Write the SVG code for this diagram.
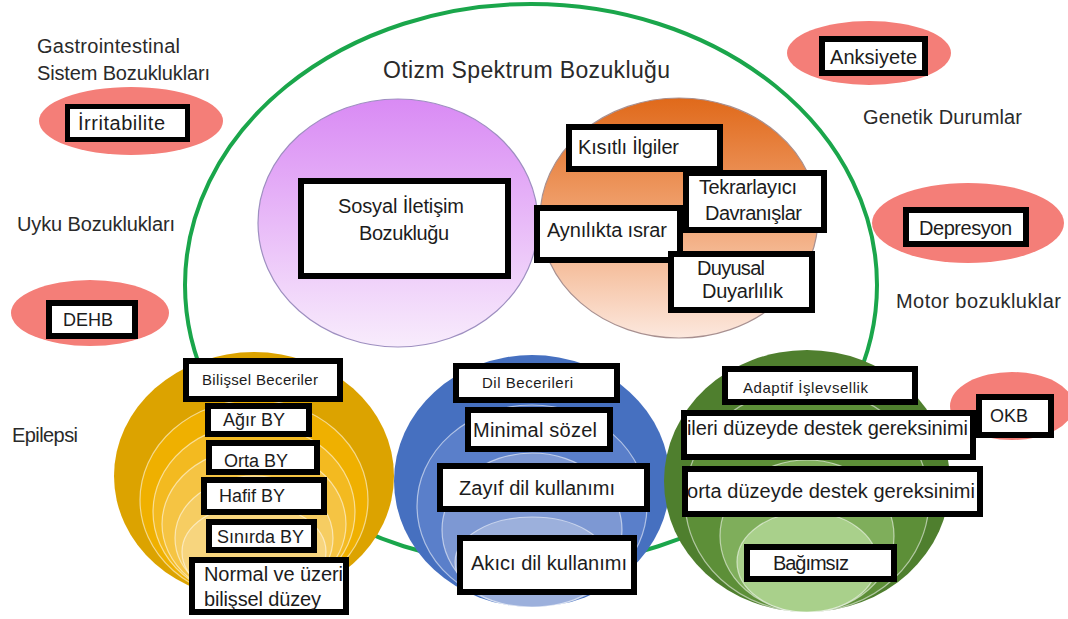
<svg xmlns="http://www.w3.org/2000/svg" width="1068" height="619" viewBox="0 0 1068 619">
<defs>
<linearGradient id="gPurple" x1="0" y1="0" x2="0" y2="1">
<stop offset="0" stop-color="#d98af4"/>
<stop offset="1" stop-color="#f8ecfc"/>
</linearGradient>
<linearGradient id="gOrange" x1="0" y1="0" x2="0" y2="1">
<stop offset="0" stop-color="#e0691a"/>
<stop offset="0.5" stop-color="#f1a473"/>
<stop offset="1" stop-color="#fce8de"/>
</linearGradient>
<style>
.t{font-family:"Liberation Sans",Arial,sans-serif;font-size:20px;fill:#1c1c1c}
.u{font-family:"Liberation Sans",Arial,sans-serif;font-size:18px;fill:#1c1c1c}
.o{font-family:"Liberation Sans",Arial,sans-serif;font-size:20px;fill:#2a2a2a}
.s{font-family:"Liberation Sans",Arial,sans-serif;font-size:15px;fill:#1c1c1c}
.b{fill:#ffffff;stroke:#000000;stroke-width:6}
.e{fill:#f47e78}
.ring{stroke:#ffffff;stroke-opacity:0.55;stroke-width:1.2}
</style>
</defs>
<rect width="1068" height="619" fill="#ffffff"/>

<g id="connectors">
<ellipse cx="531" cy="285" rx="346" ry="281" fill="none" stroke="#1aa64b" stroke-width="4"/>
</g>

<g id="title">
<text class="o" x="383" y="78" style="font-size:23px" textLength="287">Otizm Spektrum Bozukluğu</text>
</g>

<g id="gastro">
<text class="o" x="37" y="53" textLength="143">Gastrointestinal</text>
<text class="o" x="37" y="80" textLength="173">Sistem Bozuklukları</text>
</g>
<g id="irritabilite">
<ellipse class="e" cx="131" cy="121" rx="92" ry="34"/>
<rect class="b" x="67.5" y="106.5" width="120" height="33" style="stroke-width:5"/>
<text class="t" x="78" y="130" textLength="87">İrritabilite</text>
</g>
<g id="uyku">
<text class="o" x="17" y="231" textLength="158">Uyku Bozuklukları</text>
</g>
<g id="dehb">
<ellipse class="e" cx="90" cy="313" rx="79" ry="33"/>
<rect class="b" x="49" y="303" width="86" height="33"/>
<text class="u" x="63" y="326">DEHB</text>
</g>
<g id="epilepsi">
<text class="o" x="12" y="442" textLength="66">Epilepsi</text>
</g>
<g id="anksiyete">
<ellipse class="e" cx="869" cy="53" rx="82" ry="32"/>
<rect class="b" x="822" y="39" width="103" height="34"/>
<text class="t" x="830" y="64" textLength="87">Anksiyete</text>
</g>
<g id="genetik">
<text class="o" x="863" y="124" textLength="159">Genetik Durumlar</text>
</g>
<g id="depresyon">
<ellipse class="e" cx="968" cy="223" rx="96" ry="40"/>
<rect class="b" x="906" y="210" width="120" height="34"/>
<text class="t" x="919" y="235" textLength="93">Depresyon</text>
</g>
<g id="motor">
<text class="o" x="896" y="308" textLength="165">Motor bozukluklar</text>
</g>
<g id="okb">
<ellipse class="e" cx="1012" cy="406" rx="62" ry="34"/>
<rect class="b" x="979" y="397" width="72" height="38"/>
<text class="u" x="990" y="422">OKB</text>
</g>

<g id="sosyal">
<ellipse cx="398" cy="223" rx="140" ry="124" fill="url(#gPurple)" stroke="#9e8fc0" stroke-width="1.2"/>
<rect class="b" x="301" y="181" width="207" height="95"/>
<text class="t" x="401" y="213" text-anchor="middle" textLength="126">Sosyal İletişim</text>
<text class="t" x="404" y="240" text-anchor="middle" textLength="90">Bozukluğu</text>
</g>

<g id="tekrarlayici-circle">
<ellipse cx="679" cy="218" rx="139" ry="120" fill="url(#gOrange)" stroke="#a89090" stroke-width="1.2"/>
</g>
<g id="kisitli">
<rect class="b" x="569" y="127" width="151" height="42"/>
<text class="t" x="578" y="154" textLength="101">Kısıtlı İlgiler</text>
</g>
<g id="aynilikta">
<rect class="b" x="537" y="208" width="143" height="52"/>
<text class="t" x="547" y="237" textLength="120">Aynılıkta ısrar</text>
</g>
<g id="tekrarlayici">
<rect class="b" x="686" y="173" width="138" height="57"/>
<text class="t" x="699" y="194" textLength="98">Tekrarlayıcı</text>
<text class="t" x="705" y="220" textLength="97">Davranışlar</text>
</g>
<g id="duyusal">
<rect class="b" x="671" y="254" width="141" height="56"/>
<text class="t" x="697" y="275" textLength="68">Duyusal</text>
<text class="t" x="702" y="298" textLength="81">Duyarlılık</text>
</g>

<g id="bilissel">
<ellipse cx="254" cy="476" rx="140" ry="124" fill="#dca300"/>
<ellipse class="ring" cx="254" cy="500" rx="114" ry="100" fill="#efb000"/>
<ellipse class="ring" cx="254" cy="512" rx="101" ry="88" fill="#f3ba20"/>
<ellipse class="ring" cx="254" cy="524" rx="92" ry="76" fill="#f5c443"/>
<ellipse class="ring" cx="254" cy="538" rx="79" ry="62" fill="#f6cd62"/>
<ellipse class="ring" cx="254" cy="552" rx="72" ry="48" fill="#f7d57e"/>
<rect class="b" x="186" y="361" width="154" height="38"/>
<text class="s" x="202" y="385" textLength="116">Bilişsel Beceriler</text>
<rect class="b" x="208" y="406" width="101" height="28"/>
<text class="u" x="223" y="426">Ağır BY</text>
<rect class="b" x="209" y="443" width="108" height="29"/>
<text class="u" x="224" y="467">Orta BY</text>
<rect class="b" x="204" y="480" width="120" height="32"/>
<text class="u" x="219" y="502">Hafif BY</text>
<rect class="b" x="209" y="522" width="105" height="28"/>
<text class="u" x="217" y="543">Sınırda BY</text>
<rect class="b" x="192" y="560" width="154" height="52"/>
<text class="t" x="204" y="581" textLength="139">Normal ve üzeri</text>
<text class="t" x="204" y="606" textLength="117">bilişsel düzey</text>
</g>

<g id="dil">
<ellipse cx="532" cy="481" rx="138" ry="126" fill="#4670c0"/>
<ellipse class="ring" cx="532" cy="506" rx="115" ry="101" fill="#5a7fca"/>
<ellipse class="ring" cx="532" cy="530" rx="90" ry="77" fill="#7d98d3"/>
<ellipse class="ring" cx="532" cy="562" rx="77" ry="45" fill="#9cb0dc"/>
<rect class="b" x="456" y="366" width="161" height="34"/>
<text class="s" x="482" y="388" textLength="91">Dil Becerileri</text>
<rect class="b" x="468" y="410" width="142" height="39"/>
<text class="t" x="473" y="437" textLength="124">Minimal sözel</text>
<rect class="b" x="440" y="466" width="207" height="43"/>
<text class="t" x="459" y="495" textLength="156">Zayıf dil kullanımı</text>
<rect class="b" x="460" y="538" width="174" height="54"/>
<text class="t" x="471" y="570" textLength="156">Akıcı dil kullanımı</text>
</g>

<g id="adaptif">
<ellipse cx="807" cy="481" rx="143" ry="131" fill="#4f7f2e"/>
<ellipse class="ring" cx="807" cy="500" rx="122" ry="112" fill="#5d8f38" stroke-opacity="0.25"/>
<ellipse class="ring" cx="807" cy="536" rx="87" ry="76" fill="#7fae5b"/>
<ellipse class="ring" cx="807" cy="562" rx="70" ry="50" fill="#a9d08b"/>
<rect class="b" x="725" y="369" width="190" height="33"/>
<text class="s" x="743" y="393" textLength="125">Adaptif İşlevsellik</text>
<rect class="b" x="684" y="413" width="289" height="44"/>
<text class="t" x="687" y="435" textLength="281">ileri düzeyde destek gereksinimi</text>
<rect class="b" x="685" y="469" width="295" height="45"/>
<text class="t" x="687" y="498" textLength="288">orta düzeyde destek gereksinimi</text>
<rect class="b" x="747" y="547" width="147" height="32"/>
<text class="t" x="773" y="570" textLength="76">Bağımsız</text>
</g>
</svg>
